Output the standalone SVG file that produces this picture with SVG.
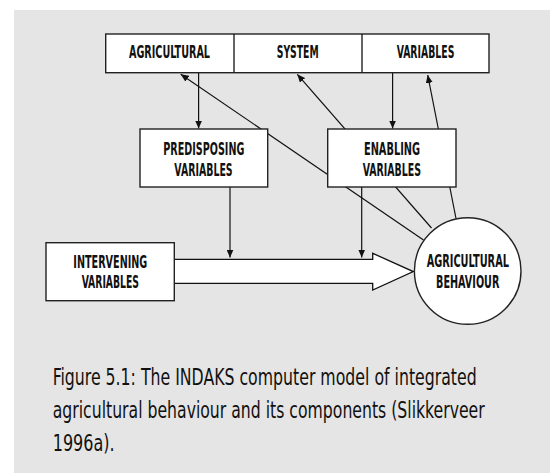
<svg xmlns="http://www.w3.org/2000/svg" width="550" height="473" viewBox="0 0 550 473">
<style>
.bg{fill:#e5e5e5}
.box{fill:#fff;stroke:#222;stroke-width:1.4}
.ln{fill:none;stroke:#111;stroke-width:1.2}
.lbl{font-family:"DejaVu Sans Condensed","DejaVu Sans",sans-serif;font-stretch:condensed;font-weight:bold;font-size:17px;fill:#111;text-anchor:middle}
.cap{font-family:"DejaVu Sans Condensed","DejaVu Sans",sans-serif;font-stretch:condensed;font-size:20px;fill:#111}
</style>
<defs>
<marker id="ah" viewBox="0 0 8 7" refX="8" refY="3.5" markerWidth="8" markerHeight="7" markerUnits="userSpaceOnUse" orient="auto">
<path d="M0,0 L8,3.5 L0,7 Z" fill="#111"/>
</marker>
</defs>
<rect x="0" y="0" width="550" height="473" fill="#fff"/>
<rect class="bg" x="14" y="10" width="536" height="463"/>
<g id="connectors">
<polygon points="174,259.3 372.7,259.3 372.7,253.3 413.3,271.6 372.7,290 372.7,283.3 174,283.3" fill="#fff" stroke="#111" stroke-width="1.3"/>
<line class="ln" x1="198.6" y1="73" x2="198.6" y2="128.5" marker-end="url(#ah)"/>
<line class="ln" x1="392.6" y1="73" x2="392.6" y2="128.5" marker-end="url(#ah)"/>
<line class="ln" x1="423.5" y1="240" x2="180.7" y2="74.2" marker-end="url(#ah)"/>
<line class="ln" x1="431.5" y1="228" x2="297.3" y2="74.3" marker-end="url(#ah)"/>
<line class="ln" x1="456" y1="218.5" x2="427.7" y2="75" marker-end="url(#ah)"/>
<line class="ln" x1="230" y1="187" x2="230" y2="257.5" marker-end="url(#ah)"/>
<line class="ln" x1="361.7" y1="187" x2="361.7" y2="257.5" marker-end="url(#ah)"/>
</g>
<g id="node-top">
<rect class="box" x="105.7" y="34" width="383.3" height="38.7"/>
<line x1="234" y1="34" x2="234" y2="72.7" stroke="#222" stroke-width="1.4"/>
<line x1="362" y1="34" x2="362" y2="72.7" stroke="#222" stroke-width="1.4"/>
<text class="lbl" transform="translate(169.5,58.3) scale(0.65,1)" textLength="124.6" lengthAdjust="spacingAndGlyphs">AGRICULTURAL</text>
<text class="lbl" transform="translate(297.7,58.3) scale(0.65,1)" textLength="64.6" lengthAdjust="spacingAndGlyphs">SYSTEM</text>
<text class="lbl" transform="translate(425.5,58.3) scale(0.65,1)" textLength="88.8" lengthAdjust="spacingAndGlyphs">VARIABLES</text>
</g>
<g id="node-predisposing">
<rect class="box" x="140" y="129" width="127.7" height="58"/>
<text class="lbl" transform="translate(203.8,155) scale(0.65,1)" textLength="124.6" lengthAdjust="spacingAndGlyphs">PREDISPOSING</text>
<text class="lbl" transform="translate(203.5,175.7) scale(0.65,1)" textLength="89.7" lengthAdjust="spacingAndGlyphs">VARIABLES</text>
</g>
<g id="node-enabling">
<rect class="box" x="327.7" y="129" width="128.3" height="58"/>
<text class="lbl" transform="translate(392,155) scale(0.65,1)" textLength="86.2" lengthAdjust="spacingAndGlyphs">ENABLING</text>
<text class="lbl" transform="translate(391.8,175.7) scale(0.65,1)" textLength="89.7" lengthAdjust="spacingAndGlyphs">VARIABLES</text>
</g>
<g id="node-intervening">
<rect class="box" x="46" y="242.7" width="128.3" height="58"/>
<text class="lbl" transform="translate(110.3,267.7) scale(0.65,1)" textLength="113.8" lengthAdjust="spacingAndGlyphs">INTERVENING</text>
<text class="lbl" transform="translate(110.3,288.3) scale(0.65,1)" textLength="88.2" lengthAdjust="spacingAndGlyphs">VARIABLES</text>
</g>
<g id="node-behaviour">
<circle class="box" cx="467.7" cy="271" r="53.3"/>
<text class="lbl" transform="translate(467.8,267.3) scale(0.65,1)" textLength="126.6" lengthAdjust="spacingAndGlyphs">AGRICULTURAL</text>
<text class="lbl" transform="translate(467.7,287.7) scale(0.65,1)" textLength="97.4" lengthAdjust="spacingAndGlyphs">BEHAVIOUR</text>
</g>
<g id="caption">
<text class="cap" transform="translate(52.7,385) scale(1,1.15)" textLength="424" lengthAdjust="spacingAndGlyphs">Figure 5.1: The INDAKS computer model of integrated</text>
<text class="cap" transform="translate(52.7,417.5) scale(1,1.15)" textLength="432" lengthAdjust="spacingAndGlyphs">agricultural behaviour and its components (Slikkerveer</text>
<text class="cap" transform="translate(52.7,450.7) scale(1,1.15)" textLength="62" lengthAdjust="spacingAndGlyphs">1996a).</text>
</g>
</svg>
